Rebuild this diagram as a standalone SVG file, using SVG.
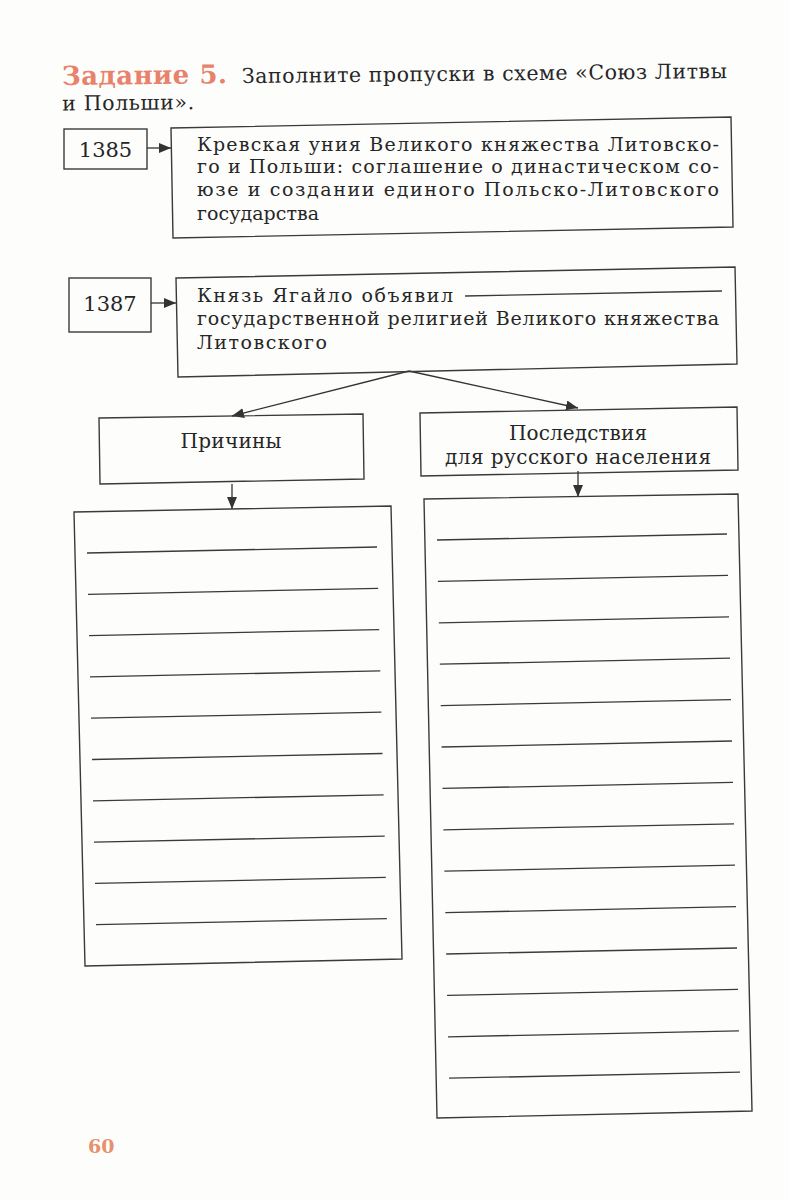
<svg xmlns="http://www.w3.org/2000/svg" width="789" height="1200" viewBox="0 0 789 1200">
<style>
.bg{fill:#fdfdfc}
.box{fill:none;stroke:#3a3a3a;stroke-width:1.4;stroke-linejoin:miter}
.ln{stroke:#3a3a3a;stroke-width:1.3;fill:none}
.con{stroke:#333;stroke-width:1.3;fill:none;marker-end:url(#ah)}
.t{font-family:"DejaVu Serif","Liberation Serif",serif;font-size:19px;fill:#262626}
.t2{font-family:"DejaVu Serif","Liberation Serif",serif;font-size:20px;fill:#262626}
.tb{font-family:"DejaVu Serif","Liberation Serif",serif;font-size:20.5px;fill:#262626}
.num{font-family:"DejaVu Serif","Liberation Serif",serif;font-size:21px;fill:#262626}
.title{font-family:"DejaVu Serif","Liberation Serif",serif;font-size:26px;font-weight:bold;fill:#e8826a}
.pg{font-family:"DejaVu Serif","Liberation Serif",serif;font-size:19px;font-weight:bold;fill:#e8906c}
</style>
<defs>
<marker id="ah" viewBox="0 0 12 10" refX="12" refY="5" markerWidth="12" markerHeight="10" markerUnits="userSpaceOnUse" orient="auto">
<path d="M0,0 L12,5 L0,10 z" fill="#333"/>
</marker>
</defs>
<rect class="bg" x="0" y="0" width="789" height="1200"/>

<g id="title" transform="rotate(-0.6 62 85)">
<text class="title" x="62" y="85" textLength="165" lengthAdjust="spacing">Задание 5.</text>
<text class="tb" x="242" y="85" textLength="485" lengthAdjust="spacing">Заполните пропуски в схеме «Союз Литвы</text>
<text class="tb" x="62" y="110.5" textLength="132" lengthAdjust="spacing">и Польши».</text>
</g>

<g id="connectors">
<line class="con" x1="147" y1="148" x2="171" y2="148"/>
<line class="con" x1="151" y1="303" x2="176" y2="303"/>
<line class="con" x1="409" y1="371" x2="232" y2="416"/>
<line class="con" x1="409" y1="371" x2="578" y2="408"/>
<line class="con" x1="232" y1="484" x2="232" y2="509"/>
<line class="con" x1="578" y1="471" x2="578" y2="497"/>
</g>

<g id="n1385">
<rect class="box" x="64" y="129" width="83" height="40"/>
<text class="num" x="105.5" y="156.5" text-anchor="middle">1385</text>
</g>

<g id="krevo">
<polygon class="box" points="171,128 731,117 733,227 173,238"/>
<text class="t" x="197" y="150.5" textLength="522" lengthAdjust="spacing">Кревская уния Великого княжества Литовско-</text>
<text class="t" x="197" y="173" textLength="522" lengthAdjust="spacing">го и Польши: соглашение о династическом со-</text>
<text class="t" x="197" y="195.5" textLength="522" lengthAdjust="spacing">юзе и создании единого Польско-Литовского</text>
<text class="t" x="197" y="220" textLength="122" lengthAdjust="spacing">государства</text>
</g>

<g id="n1387">
<rect class="box" x="69" y="278" width="82" height="54"/>
<text class="num" x="110" y="310.5" text-anchor="middle">1387</text>
</g>

<g id="yagailo">
<polygon class="box" points="176,278 735,267 737,364 178,377"/>
<text class="t" x="197" y="302" textLength="256" lengthAdjust="spacing">Князь Ягайло объявил</text>
<line class="ln" x1="465" y1="296" x2="722" y2="291"/>
<text class="t" x="197" y="324.5" textLength="522" lengthAdjust="spacing">государственной религией Великого княжества</text>
<text class="t" x="197" y="348.5" textLength="130" lengthAdjust="spacing">Литовского</text>
</g>

<g id="prichiny">
<polygon class="box" points="99,418 363,414 364,479 100,484"/>
<text class="t2" x="231" y="448" text-anchor="middle" textLength="101" lengthAdjust="spacing">Причины</text>
</g>

<g id="posledstviya">
<polygon class="box" points="420,413 737,407 738,470 421,476"/>
<text class="t2" x="578" y="439.5" text-anchor="middle" textLength="138" lengthAdjust="spacing">Последствия</text>
<text class="t2" x="578" y="463.5" text-anchor="middle" textLength="266" lengthAdjust="spacing">для русского населения</text>
</g>

<g id="prichiny-list">
<polygon class="box" points="74,512 391,506 402,959 85,966"/>
<line class="ln" x1="87" y1="553" x2="377" y2="547"/>
<line class="ln" x1="88" y1="594.3" x2="378.1" y2="588.3"/>
<line class="ln" x1="89" y1="635.6" x2="379.2" y2="629.6"/>
<line class="ln" x1="90" y1="676.9" x2="380.3" y2="670.9"/>
<line class="ln" x1="91" y1="718.2" x2="381.4" y2="712.2"/>
<line class="ln" x1="92" y1="759.5" x2="382.5" y2="753.5"/>
<line class="ln" x1="93" y1="800.8" x2="383.6" y2="794.8"/>
<line class="ln" x1="94" y1="842.1" x2="384.7" y2="836.1"/>
<line class="ln" x1="95" y1="883.4" x2="385.8" y2="877.4"/>
<line class="ln" x1="96" y1="924.7" x2="386.9" y2="918.7"/>
</g>

<g id="posledstviya-list">
<polygon class="box" points="424,499 738,494 752,1111 437,1118"/>
<line class="ln" x1="437" y1="540" x2="727" y2="534"/>
<line class="ln" x1="437.9" y1="581.4" x2="728" y2="575.4"/>
<line class="ln" x1="438.8" y1="622.8" x2="729" y2="616.8"/>
<line class="ln" x1="439.8" y1="664.2" x2="730" y2="658.2"/>
<line class="ln" x1="440.7" y1="705.6" x2="731" y2="699.6"/>
<line class="ln" x1="441.6" y1="747" x2="732" y2="741"/>
<line class="ln" x1="442.5" y1="788.4" x2="733" y2="782.4"/>
<line class="ln" x1="443.4" y1="829.8" x2="734" y2="823.8"/>
<line class="ln" x1="444.4" y1="871.2" x2="735" y2="865.2"/>
<line class="ln" x1="445.3" y1="912.6" x2="736" y2="906.6"/>
<line class="ln" x1="446.2" y1="954" x2="737" y2="948"/>
<line class="ln" x1="447.1" y1="995.4" x2="738" y2="989.4"/>
<line class="ln" x1="448" y1="1036.8" x2="739" y2="1030.8"/>
<line class="ln" x1="449" y1="1078.2" x2="740" y2="1072.2"/>
</g>

<g id="page-number">
<text class="pg" x="88" y="1153">60</text>
</g>
</svg>
